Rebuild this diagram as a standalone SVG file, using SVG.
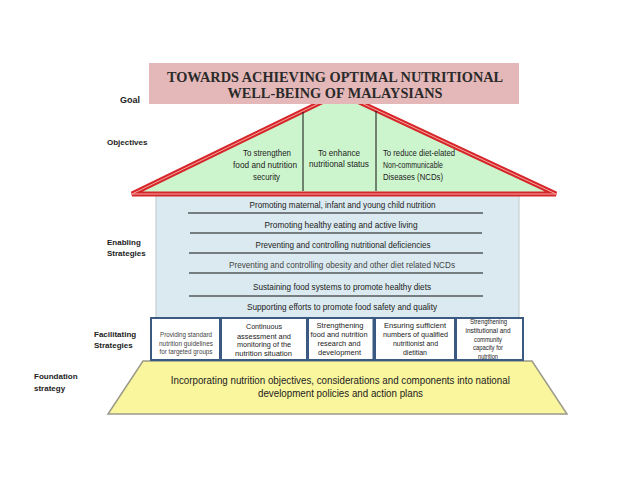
<svg xmlns="http://www.w3.org/2000/svg" width="638" height="479" viewBox="0 0 638 479">
<style>
text{font-family:"Liberation Sans",Arial,sans-serif;fill:#222}
.lbl{font-weight:bold;font-size:8px}
.t{font-size:9px}
.en{font-size:9.5px;text-anchor:middle}
.fb{font-size:8px;text-anchor:middle}
.sm{font-size:6.6px;text-anchor:middle;fill:#444}
.goal{font-family:"Liberation Serif","Times New Roman",serif;font-weight:bold;font-size:14.3px;text-anchor:middle;fill:#2a2a2a}
.box{fill:#fff;stroke:#3b5a82;stroke-width:2}
.sep{stroke:#111;stroke-width:1.2}
</style>
<rect width="638" height="479" fill="#fff"/>

<g id="labels">
<text class="lbl" x="120" y="103" style="font-size:9px">Goal</text>
<text class="lbl" x="107" y="145">Objectives</text>
<text class="lbl" x="107" y="245">Enabling</text>
<text class="lbl" x="107" y="256">Strategies</text>
<text class="lbl" x="94" y="337">Facilitating</text>
<text class="lbl" x="94" y="348">Strategies</text>
<text class="lbl" x="34" y="379">Foundation</text>
<text class="lbl" x="34" y="391">strategy</text>
</g>

<g id="enabling">
<rect x="156" y="192" width="363" height="127" fill="#dbeaf0" stroke="#bcc8cc" stroke-width="1"/>
<text class="en" x="342.5" y="208" textLength="186" lengthAdjust="spacingAndGlyphs">Promoting maternal, infant and young child nutrition</text>
<line class="sep" x1="188" y1="213" x2="483" y2="213"/>
<text class="en" x="341" y="228" textLength="153" lengthAdjust="spacingAndGlyphs">Promoting healthy eating and active living</text>
<line class="sep" x1="190" y1="233" x2="482" y2="233"/>
<text class="en" x="343" y="248" textLength="175" lengthAdjust="spacingAndGlyphs">Preventing and controlling nutritional deficiencies</text>
<line class="sep" x1="189" y1="253" x2="483" y2="253"/>
<text class="en" x="342" y="268" textLength="226" lengthAdjust="spacingAndGlyphs" style="fill:#444">Preventing and controlling obesity and other diet related NCDs</text>
<line class="sep" x1="189" y1="273" x2="483" y2="273"/>
<text class="en" x="342" y="290" textLength="178" lengthAdjust="spacingAndGlyphs">Sustaining food systems to promote healthy diets</text>
<line class="sep" x1="189" y1="296" x2="483" y2="296"/>
<text class="en" x="342" y="310" textLength="190" lengthAdjust="spacingAndGlyphs">Supporting efforts to promote food safety and quality</text>
</g>

<g id="objectives">
<polygon points="132,194 340,93 556,194" fill="#cdf5cd" stroke="#d7262a" stroke-width="5" stroke-linejoin="miter"/>
<polygon points="132,194 340,93 556,194" fill="none" stroke="#f2a8a0" stroke-width="1"/>
<line x1="303" y1="112" x2="303" y2="191" stroke="#111" stroke-width="1"/>
<line x1="376" y1="111" x2="376" y2="191" stroke="#111" stroke-width="1"/>
<text class="t" x="267" y="156" text-anchor="middle" textLength="48" lengthAdjust="spacingAndGlyphs">To strengthen</text>
<text class="t" x="265" y="168" text-anchor="middle" textLength="64" lengthAdjust="spacingAndGlyphs">food and nutrition</text>
<text class="t" x="266.5" y="180" text-anchor="middle" textLength="27" lengthAdjust="spacingAndGlyphs">security</text>
<text class="t" x="339" y="156" text-anchor="middle" textLength="42" lengthAdjust="spacingAndGlyphs">To enhance</text>
<text class="t" x="339" y="167" text-anchor="middle" textLength="60" lengthAdjust="spacingAndGlyphs">nutritional status</text>
<text class="t" x="383" y="156" textLength="72" lengthAdjust="spacingAndGlyphs">To reduce diet-elated</text>
<text class="t" x="383" y="168" textLength="60" lengthAdjust="spacingAndGlyphs">Non-communicable</text>
<text class="t" x="383" y="180" textLength="60" lengthAdjust="spacingAndGlyphs">Diseases (NCDs)</text>
</g>

<g id="goal">
<rect x="149" y="63" width="370" height="41" fill="#e4b8b8"/>
<text class="goal" x="335" y="82">TOWARDS ACHIEVING OPTIMAL NUTRITIONAL</text>
<text class="goal" x="335" y="98">WELL-BEING OF MALAYSIANS</text>
</g>

<g id="foundation">
<polygon points="143,361 532,361 567,414 108,414" fill="#faf69e" stroke="#9a9a8a" stroke-width="1.5"/>
<text x="340.3" y="384" style="font-size:10px" text-anchor="middle" textLength="339" lengthAdjust="spacingAndGlyphs">Incorporating nutrition objectives, considerations and components into national</text>
<text x="340.5" y="397" style="font-size:10px" text-anchor="middle" textLength="165" lengthAdjust="spacingAndGlyphs">development policies and action plans</text>
</g>

<g id="fac1">
<rect class="box" x="151" y="318" width="69" height="42"/>
<text class="sm" x="186" y="337" textLength="52" lengthAdjust="spacingAndGlyphs">Providing standard</text>
<text class="sm" x="186" y="345.5" textLength="54" lengthAdjust="spacingAndGlyphs">nutrition guidelines</text>
<text class="sm" x="186" y="354" textLength="53" lengthAdjust="spacingAndGlyphs">for targeted groups</text>
</g>
<g id="fac2">
<rect class="box" x="221" y="318" width="86" height="42"/>
<text class="fb" x="264" y="329" textLength="36" lengthAdjust="spacingAndGlyphs">Continuous</text>
<text class="fb" x="264" y="338.5" textLength="54" lengthAdjust="spacingAndGlyphs">assessment and</text>
<text class="fb" x="264" y="347" textLength="54" lengthAdjust="spacingAndGlyphs">monitoring of the</text>
<text class="fb" x="263.5" y="355.5" textLength="57" lengthAdjust="spacingAndGlyphs">nutrition situation</text>
</g>
<g id="fac3">
<rect class="box" x="308" y="318" width="65.5" height="42"/>
<text class="fb" x="340" y="327.5" textLength="47" lengthAdjust="spacingAndGlyphs">Strengthening</text>
<text class="fb" x="339" y="336.5" textLength="57" lengthAdjust="spacingAndGlyphs">food and nutrition</text>
<text class="fb" x="339" y="345.5" textLength="43" lengthAdjust="spacingAndGlyphs">research and</text>
<text class="fb" x="339.5" y="354.5" textLength="43" lengthAdjust="spacingAndGlyphs">development</text>
</g>
<g id="fac4">
<rect class="box" x="375" y="318" width="80" height="42"/>
<text class="fb" x="415" y="328" textLength="62" lengthAdjust="spacingAndGlyphs">Ensuring sufficient</text>
<text class="fb" x="415.5" y="337" textLength="65" lengthAdjust="spacingAndGlyphs">numbers of qualified</text>
<text class="fb" x="415.5" y="346" textLength="45" lengthAdjust="spacingAndGlyphs">nutritionist and</text>
<text class="fb" x="415" y="355" textLength="24" lengthAdjust="spacingAndGlyphs">dietitian</text>
</g>
<g id="fac5">
<rect class="box" x="456" y="318" width="67" height="42"/>
<text class="fb" x="488.5" y="324" textLength="37" lengthAdjust="spacingAndGlyphs">Strengthening</text>
<text class="fb" x="488" y="332.5" textLength="45" lengthAdjust="spacingAndGlyphs">institutional and</text>
<text class="fb" x="488" y="341.5" textLength="28" lengthAdjust="spacingAndGlyphs">community</text>
<text class="fb" x="488" y="350" textLength="30" lengthAdjust="spacingAndGlyphs">capacity for</text>
<text class="fb" x="488" y="359" textLength="20" lengthAdjust="spacingAndGlyphs">nutrition</text>
</g>
</svg>
